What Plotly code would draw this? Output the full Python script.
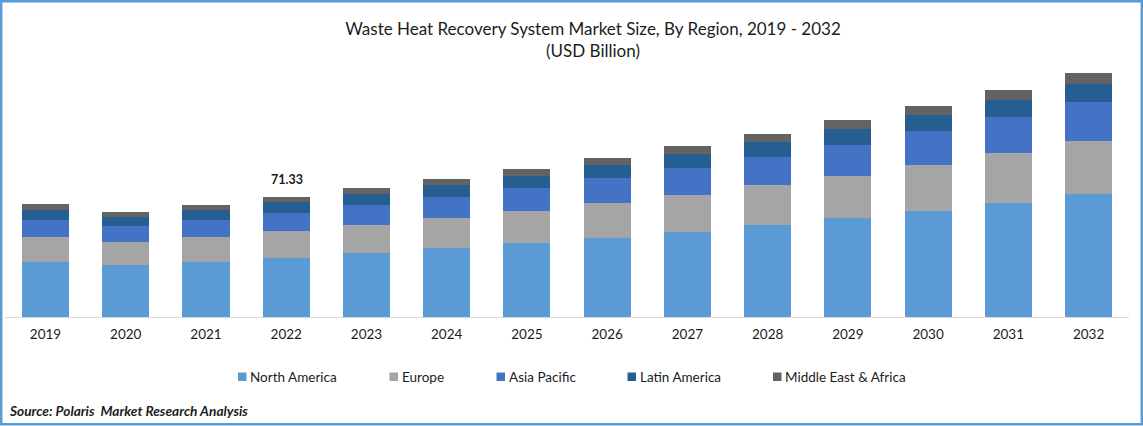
import plotly.graph_objects as go

years = [str(y) for y in range(2019, 2033)]
north_america = [32.7, 30.9, 32.7, 35.1, 38.0, 41.0, 44.0, 47.0, 50.5, 54.7, 58.8, 63.0, 67.8, 73.1]
europe = [14.9, 13.7, 14.9, 16.0, 16.6, 17.8, 19.0, 20.8, 22.0, 23.8, 25.0, 27.3, 29.7, 31.5]
asia_pacific = [10.1, 9.5, 10.1, 10.7, 11.9, 12.5, 13.7, 14.9, 16.0, 16.6, 18.4, 20.2, 21.4, 23.2]
latin_america = [5.9, 5.3, 5.9, 6.5, 6.5, 7.1, 7.1, 7.7, 8.3, 8.9, 9.5, 9.5, 10.1, 10.7]
mea = [3.6, 3.0, 3.0, 3.03, 3.6, 3.6, 4.2, 4.2, 4.8, 4.8, 5.3, 5.3, 5.9, 6.5]

series = [
    ("North America", north_america, "#5B9BD5"),
    ("Europe", europe, "#A5A5A5"),
    ("Asia Pacific", asia_pacific, "#4472C4"),
    ("Latin America", latin_america, "#255E91"),
    ("Middle East & Africa", mea, "#636363"),
]
legend_px = [238, 389.5, 496.5, 627.5, 773]
W, H = 1143, 426
FONT = "Lato"
INK = "#1c1c1c"

fig = go.Figure()
for name, vals, col in series:
    fig.add_bar(x=years, y=vals, name=name, marker=dict(color=col, line_width=0), showlegend=False)

shapes = [dict(type="rect", xref="paper", yref="paper", x0=1.2/W, x1=(W-1.2)/W, y0=1.8/H, y1=(H-1.2)/H,
               line=dict(color="#5B9BD5", width=2.5), fillcolor="rgba(0,0,0,0)")]
annos = []
for (name, vals, col), px in zip(series, legend_px):
    shapes.append(dict(type="rect", xref="paper", yref="paper", x0=px/W, x1=(px+8.5)/W,
                       y0=(H-381)/H, y1=(H-372.5)/H, fillcolor=col, line_width=0))
    annos.append(dict(text=name, xref="paper", yref="paper", x=(px+10)/W, y=(H-376.5)/H,
                      xanchor="left", yanchor="middle", showarrow=False,
                      font=dict(family=FONT, size=13.5, color=INK)))
total_2022 = sum(s[1][3] for s in series)
annos.append(dict(text="<b>71.33</b>", x=years.index("2022"), y=total_2022, yshift=8, xshift=1, yanchor="bottom",
                  showarrow=False, font=dict(family=FONT, size=12.5, color=INK)))
annos.append(dict(text="<b><i>Source: Polaris  Market Research Analysis</i></b>", xref="paper", yref="paper",
                  x=7/W, y=(H-410)/H, xanchor="left", yanchor="middle", showarrow=False,
                  font=dict(family=FONT, size=13.7, color=INK)))

fig.update_layout(
    width=W, height=H, margin=dict(l=0, r=0, t=0, b=0, pad=0),
    paper_bgcolor="white", plot_bgcolor="white", barmode="stack", bargap=0.414,
    title=dict(text="Waste Heat Recovery System Market Size, By Region, 2019 - 2032<br>(USD Billion)",
               x=593/W, xanchor="center", y=(H-35)/H, yanchor="top",
               font=dict(family=FONT, size=17, color=INK)),
    xaxis=dict(domain=[5.4/W, 1128.7/W], type="category", categoryorder="array", categoryarray=years,
               range=[-0.5, 13.5], automargin=False, showline=True, linecolor="#D9D9D9", linewidth=1,
               ticks="", showgrid=False, tickfont=dict(family=FONT, size=13.5, color=INK), ticklabelstandoff=5),
    yaxis=dict(domain=[(H-317)/H, (H-50)/H], range=[0, 158.7], visible=False),
    shapes=shapes, annotations=annos,
)
fig.write_html("out.html", config=dict(displayModeBar=False), post_script="document.body.style.margin='0';")
